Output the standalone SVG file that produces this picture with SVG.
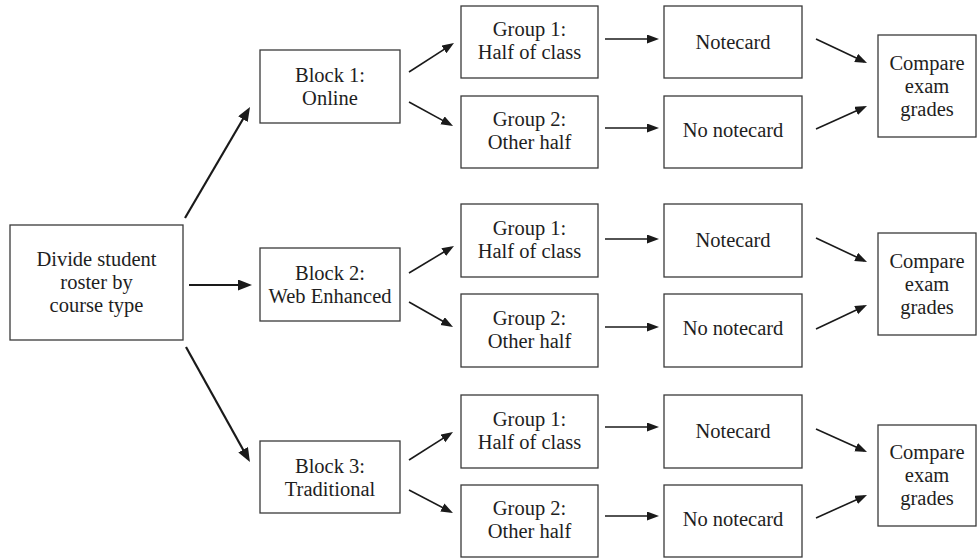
<svg xmlns="http://www.w3.org/2000/svg" width="977" height="558" viewBox="0 0 977 558">
<style>
  rect { fill: #fff; stroke: #3a3a3a; stroke-width: 1.3; }
  text { font-family: "Liberation Serif", Tinos, "Times New Roman", Times, "Nimbus Roman", "Nimbus Roman No9 L", "DejaVu Serif", serif; font-size: 20.5px; fill: #1e1e1e; text-anchor: middle; }
  .big { stroke: #1a1a1a; stroke-width: 2.2; fill: none; marker-end: url(#hb); }
  .sm { stroke: #1a1a1a; stroke-width: 1.6; fill: none; marker-end: url(#hs); }
</style>
<defs>
  <marker id="hb" markerUnits="userSpaceOnUse" markerWidth="16" markerHeight="12" refX="10" refY="5.5" orient="auto">
    <path d="M0,0 L14,5.5 L0,11 Z" fill="#1a1a1a"/>
  </marker>
  <marker id="hs" markerUnits="userSpaceOnUse" markerWidth="14" markerHeight="10" refX="9" refY="4.5" orient="auto">
    <path d="M0,0 L12,4.5 L0,9 Z" fill="#1a1a1a"/>
  </marker>
</defs>
<rect x="0" y="0" width="977" height="558" style="fill:#fff;stroke:none"/>

<g id="connectors">
  <line class="big" x1="185" y1="218" x2="248" y2="110.5"/>
  <line class="big" x1="189" y1="285" x2="248" y2="285"/>
  <line class="big" x1="186" y1="347" x2="248" y2="458.5"/>

  <line class="sm" x1="409" y1="72" x2="451.5" y2="44.6"/>
  <line class="sm" x1="409" y1="102" x2="450.4" y2="124.6"/>
  <line class="sm" x1="409" y1="273" x2="451.4" y2="247.5"/>
  <line class="sm" x1="409" y1="302" x2="450.4" y2="325.5"/>
  <line class="sm" x1="409" y1="460" x2="450.5" y2="433.6"/>
  <line class="sm" x1="409" y1="490" x2="450.3" y2="511.6"/>

  <line class="sm" x1="605" y1="39" x2="656" y2="39"/>
  <line class="sm" x1="605" y1="128" x2="656" y2="128"/>
  <line class="sm" x1="605" y1="239" x2="656" y2="239"/>
  <line class="sm" x1="605" y1="327" x2="656" y2="327"/>
  <line class="sm" x1="605" y1="427" x2="656" y2="427"/>
  <line class="sm" x1="605" y1="516" x2="656" y2="516"/>

  <line class="sm" x1="816" y1="39" x2="864.3" y2="61.7"/>
  <line class="sm" x1="816" y1="129" x2="864.3" y2="107.2"/>
  <line class="sm" x1="816" y1="238" x2="864.3" y2="260.7"/>
  <line class="sm" x1="816" y1="329" x2="864.3" y2="306.3"/>
  <line class="sm" x1="816" y1="429" x2="864.3" y2="450.8"/>
  <line class="sm" x1="816" y1="518" x2="864.3" y2="496.2"/>
</g>

<g id="root">
  <rect x="10" y="225" width="173" height="115"/>
  <text x="96.5" y="266">Divide student</text>
  <text x="96.5" y="289">roster by</text>
  <text x="96.5" y="312">course type</text>
</g>

<g id="block1">
  <rect x="260" y="50" width="140" height="73"/>
  <text x="330" y="82">Block 1:</text>
  <text x="330" y="105">Online</text>
</g>
<g id="block2">
  <rect x="260" y="248" width="140" height="73"/>
  <text x="330" y="280">Block 2:</text>
  <text x="330" y="303">Web Enhanced</text>
</g>
<g id="block3">
  <rect x="260" y="441" width="140" height="72"/>
  <text x="330" y="472.5">Block 3:</text>
  <text x="330" y="495.5">Traditional</text>
</g>

<g id="b1g1">
  <rect x="461" y="6" width="137" height="72"/>
  <text x="529.5" y="36">Group 1:</text>
  <text x="529.5" y="59">Half of class</text>
</g>
<g id="b1g2">
  <rect x="461" y="96" width="137" height="72"/>
  <text x="529.5" y="126">Group 2:</text>
  <text x="529.5" y="149">Other half</text>
</g>
<g id="b2g1">
  <rect x="461" y="204" width="137" height="73"/>
  <text x="529.5" y="234.5">Group 1:</text>
  <text x="529.5" y="257.5">Half of class</text>
</g>
<g id="b2g2">
  <rect x="461" y="294" width="137" height="73"/>
  <text x="529.5" y="324.5">Group 2:</text>
  <text x="529.5" y="347.5">Other half</text>
</g>
<g id="b3g1">
  <rect x="461" y="395" width="137" height="73"/>
  <text x="529.5" y="425.5">Group 1:</text>
  <text x="529.5" y="448.5">Half of class</text>
</g>
<g id="b3g2">
  <rect x="461" y="485" width="137" height="72"/>
  <text x="529.5" y="515">Group 2:</text>
  <text x="529.5" y="538">Other half</text>
</g>

<g id="b1n1">
  <rect x="664" y="6" width="138" height="72"/>
  <text x="733" y="49">Notecard</text>
</g>
<g id="b1n2">
  <rect x="664" y="96" width="138" height="72"/>
  <text x="733" y="137">No notecard</text>
</g>
<g id="b2n1">
  <rect x="664" y="204" width="138" height="73"/>
  <text x="733" y="247">Notecard</text>
</g>
<g id="b2n2">
  <rect x="664" y="294" width="138" height="73"/>
  <text x="733" y="335">No notecard</text>
</g>
<g id="b3n1">
  <rect x="664" y="395" width="138" height="73"/>
  <text x="733" y="438">Notecard</text>
</g>
<g id="b3n2">
  <rect x="664" y="485" width="138" height="72"/>
  <text x="733" y="526">No notecard</text>
</g>

<g id="compare1">
  <rect x="878" y="35" width="98" height="102"/>
  <text x="927" y="69.5">Compare</text>
  <text x="927" y="92.5">exam</text>
  <text x="927" y="115.5">grades</text>
</g>
<g id="compare2">
  <rect x="878" y="233" width="98" height="102"/>
  <text x="927" y="267.5">Compare</text>
  <text x="927" y="290.5">exam</text>
  <text x="927" y="313.5">grades</text>
</g>
<g id="compare3">
  <rect x="878" y="425" width="98" height="101"/>
  <text x="927" y="459">Compare</text>
  <text x="927" y="482">exam</text>
  <text x="927" y="505">grades</text>
</g>
</svg>
